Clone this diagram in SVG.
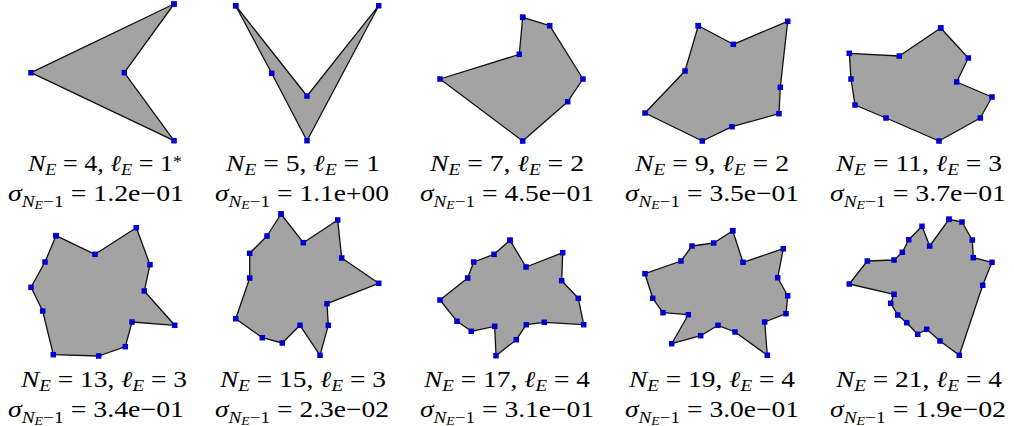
<svg xmlns="http://www.w3.org/2000/svg" width="1014" height="426" viewBox="0 0 1014 426">
<style>
.poly{fill:#a3a3a3;stroke:#111;stroke-width:1.3;stroke-linejoin:round;marker-start:url(#v);marker-mid:url(#v);marker-end:url(#v)}
.t{font-family:'Liberation Serif','Times New Roman',serif;font-size:23px;fill:#000;text-anchor:middle}
.i{font-style:italic}
.s{font-size:16px}
.ss{font-size:11.5px}
</style>
<defs>
<marker id="v" markerUnits="userSpaceOnUse" markerWidth="6" markerHeight="6" refX="2.75" refY="2.75" orient="0" overflow="visible">
<rect x="0" y="0" width="5.5" height="5.5" fill="#0000cc"/>
</marker>
</defs>
<rect width="1014" height="426" fill="#fff"/>
<g id="connectors"></g>
<g id="shape1"><polygon class="poly" points="174,4 31,72.7 174,140.7 124.3,72.7"/>
<text class="t" x="105" y="171" textLength="154" lengthAdjust="spacingAndGlyphs"><tspan class="i">N</tspan><tspan class="i s" dy="3.5">E</tspan><tspan dy="-3.5"> = 4, </tspan><tspan class="i">ℓ</tspan><tspan class="i s" dy="3.5">E</tspan><tspan dy="-3.5"> = 1</tspan><tspan class="s" dy="-4">*</tspan></text>
<text class="t" x="96" y="201" textLength="176" lengthAdjust="spacingAndGlyphs"><tspan class="i">σ</tspan><tspan class="i s" dy="5.5">N</tspan><tspan class="i ss" dy="2.5">E</tspan><tspan class="s" dy="-2.5">−1</tspan><tspan dy="-5.5"> = 1.2e−01</tspan></text></g>
<g id="shape2"><polygon class="poly" points="235.7,5.7 271.7,73.3 307,140.7 378.7,5.7 307,96"/>
<text class="t" x="303" y="171" textLength="154" lengthAdjust="spacingAndGlyphs"><tspan class="i">N</tspan><tspan class="i s" dy="3.5">E</tspan><tspan dy="-3.5"> = 5, </tspan><tspan class="i">ℓ</tspan><tspan class="i s" dy="3.5">E</tspan><tspan dy="-3.5"> = 1</tspan></text>
<text class="t" x="302" y="201" textLength="174" lengthAdjust="spacingAndGlyphs"><tspan class="i">σ</tspan><tspan class="i s" dy="5.5">N</tspan><tspan class="i ss" dy="2.5">E</tspan><tspan class="s" dy="-2.5">−1</tspan><tspan dy="-5.5"> = 1.1e+00</tspan></text></g>
<g id="shape3"><polygon class="poly" points="522.7,17.3 549.7,25.7 583,79 567.7,101.7 522.7,141 440,79 519.3,54.3"/>
<text class="t" x="507" y="171" textLength="154" lengthAdjust="spacingAndGlyphs"><tspan class="i">N</tspan><tspan class="i s" dy="3.5">E</tspan><tspan dy="-3.5"> = 7, </tspan><tspan class="i">ℓ</tspan><tspan class="i s" dy="3.5">E</tspan><tspan dy="-3.5"> = 2</tspan></text>
<text class="t" x="507" y="201" textLength="174" lengthAdjust="spacingAndGlyphs"><tspan class="i">σ</tspan><tspan class="i s" dy="5.5">N</tspan><tspan class="i ss" dy="2.5">E</tspan><tspan class="s" dy="-2.5">−1</tspan><tspan dy="-5.5"> = 4.5e−01</tspan></text></g>
<g id="shape4"><polygon class="poly" points="698.3,25.7 733.3,44.3 787.7,21.3 780.3,87.3 779,113.7 732,126.7 702.3,141 645,113 685,71"/>
<text class="t" x="712" y="171" textLength="154" lengthAdjust="spacingAndGlyphs"><tspan class="i">N</tspan><tspan class="i s" dy="3.5">E</tspan><tspan dy="-3.5"> = 9, </tspan><tspan class="i">ℓ</tspan><tspan class="i s" dy="3.5">E</tspan><tspan dy="-3.5"> = 2</tspan></text>
<text class="t" x="712" y="201" textLength="174" lengthAdjust="spacingAndGlyphs"><tspan class="i">σ</tspan><tspan class="i s" dy="5.5">N</tspan><tspan class="i ss" dy="2.5">E</tspan><tspan class="s" dy="-2.5">−1</tspan><tspan dy="-5.5"> = 3.5e−01</tspan></text></g>
<g id="shape5"><polygon class="poly" points="940.7,28 968.3,58 956.7,82 992,97 980.3,118 939,141 886,118 855,105 851,79 849.3,53.3 899.3,56"/>
<text class="t" x="919" y="171" textLength="166" lengthAdjust="spacingAndGlyphs"><tspan class="i">N</tspan><tspan class="i s" dy="3.5">E</tspan><tspan dy="-3.5"> = 11, </tspan><tspan class="i">ℓ</tspan><tspan class="i s" dy="3.5">E</tspan><tspan dy="-3.5"> = 3</tspan></text>
<text class="t" x="918" y="201" textLength="176" lengthAdjust="spacingAndGlyphs"><tspan class="i">σ</tspan><tspan class="i s" dy="5.5">N</tspan><tspan class="i ss" dy="2.5">E</tspan><tspan class="s" dy="-2.5">−1</tspan><tspan dy="-5.5"> = 3.7e−01</tspan></text></g>
<g id="shape6"><polygon class="poly" points="56,235.7 95,254.3 136.3,227.7 150,264.7 144.3,291 174.7,325.3 132,322 125.3,346.7 98.7,356 53.3,354.7 42.7,311 31,287.3 45,262"/>
<text class="t" x="104" y="387" textLength="166" lengthAdjust="spacingAndGlyphs"><tspan class="i">N</tspan><tspan class="i s" dy="3.5">E</tspan><tspan dy="-3.5"> = 13, </tspan><tspan class="i">ℓ</tspan><tspan class="i s" dy="3.5">E</tspan><tspan dy="-3.5"> = 3</tspan></text>
<text class="t" x="96" y="417" textLength="176" lengthAdjust="spacingAndGlyphs"><tspan class="i">σ</tspan><tspan class="i s" dy="5.5">N</tspan><tspan class="i ss" dy="2.5">E</tspan><tspan class="s" dy="-2.5">−1</tspan><tspan dy="-5.5"> = 3.4e−01</tspan></text></g>
<g id="shape7"><polygon class="poly" points="281,214 303.3,242.7 337.7,220 341.7,258 378.7,283.3 327,303.7 328.3,325.3 320,355.3 300,325.3 282.3,343 262.3,337.7 235.7,318.7 249.7,278 249.7,253.3 267,236"/>
<text class="t" x="303" y="387" textLength="166" lengthAdjust="spacingAndGlyphs"><tspan class="i">N</tspan><tspan class="i s" dy="3.5">E</tspan><tspan dy="-3.5"> = 15, </tspan><tspan class="i">ℓ</tspan><tspan class="i s" dy="3.5">E</tspan><tspan dy="-3.5"> = 3</tspan></text>
<text class="t" x="302" y="417" textLength="174" lengthAdjust="spacingAndGlyphs"><tspan class="i">σ</tspan><tspan class="i s" dy="5.5">N</tspan><tspan class="i ss" dy="2.5">E</tspan><tspan class="s" dy="-2.5">−1</tspan><tspan dy="-5.5"> = 2.3e−02</tspan></text></g>
<g id="shape8"><polygon class="poly" points="510,240.3 526,267 562.7,252.7 561.7,280.7 578.3,298.3 583.7,324.7 544.3,322.3 526.3,324.7 516.3,339.7 496,355.7 494.7,326.3 471.3,331.3 457,321.3 440,300 467.7,278 473.7,262 494,254.3"/>
<text class="t" x="507" y="387" textLength="166" lengthAdjust="spacingAndGlyphs"><tspan class="i">N</tspan><tspan class="i s" dy="3.5">E</tspan><tspan dy="-3.5"> = 17, </tspan><tspan class="i">ℓ</tspan><tspan class="i s" dy="3.5">E</tspan><tspan dy="-3.5"> = 4</tspan></text>
<text class="t" x="507" y="417" textLength="174" lengthAdjust="spacingAndGlyphs"><tspan class="i">σ</tspan><tspan class="i s" dy="5.5">N</tspan><tspan class="i ss" dy="2.5">E</tspan><tspan class="s" dy="-2.5">−1</tspan><tspan dy="-5.5"> = 3.1e−01</tspan></text></g>
<g id="shape9"><polygon class="poly" points="732.7,230.7 743,262.3 783.3,248.7 777.7,277.7 787.7,295.7 786,313.7 764.7,322 767.3,355.3 735,332 718,325.3 700.7,335.7 671.7,343.7 688.3,314.7 663,312.7 652.7,298.3 645,273.7 681,261 692,246 713.7,243"/>
<text class="t" x="712" y="387" textLength="166" lengthAdjust="spacingAndGlyphs"><tspan class="i">N</tspan><tspan class="i s" dy="3.5">E</tspan><tspan dy="-3.5"> = 19, </tspan><tspan class="i">ℓ</tspan><tspan class="i s" dy="3.5">E</tspan><tspan dy="-3.5"> = 4</tspan></text>
<text class="t" x="712" y="417" textLength="174" lengthAdjust="spacingAndGlyphs"><tspan class="i">σ</tspan><tspan class="i s" dy="5.5">N</tspan><tspan class="i ss" dy="2.5">E</tspan><tspan class="s" dy="-2.5">−1</tspan><tspan dy="-5.5"> = 3.0e−01</tspan></text></g>
<g id="shape10"><polygon class="poly" points="949,219.3 962,222 972.3,240 973.3,257.7 992,262.3 982.7,285.3 959.3,355.3 940,341 926.7,329.3 917.7,334.3 906.7,322.7 897.7,315 890.7,303.3 894,294.3 849.3,284 867.3,261 894,260 902.3,252.3 908.7,239.7 922,226.3 929.7,246"/>
<text class="t" x="919" y="387" textLength="166" lengthAdjust="spacingAndGlyphs"><tspan class="i">N</tspan><tspan class="i s" dy="3.5">E</tspan><tspan dy="-3.5"> = 21, </tspan><tspan class="i">ℓ</tspan><tspan class="i s" dy="3.5">E</tspan><tspan dy="-3.5"> = 4</tspan></text>
<text class="t" x="918" y="417" textLength="176" lengthAdjust="spacingAndGlyphs"><tspan class="i">σ</tspan><tspan class="i s" dy="5.5">N</tspan><tspan class="i ss" dy="2.5">E</tspan><tspan class="s" dy="-2.5">−1</tspan><tspan dy="-5.5"> = 1.9e−02</tspan></text></g>
</svg>
